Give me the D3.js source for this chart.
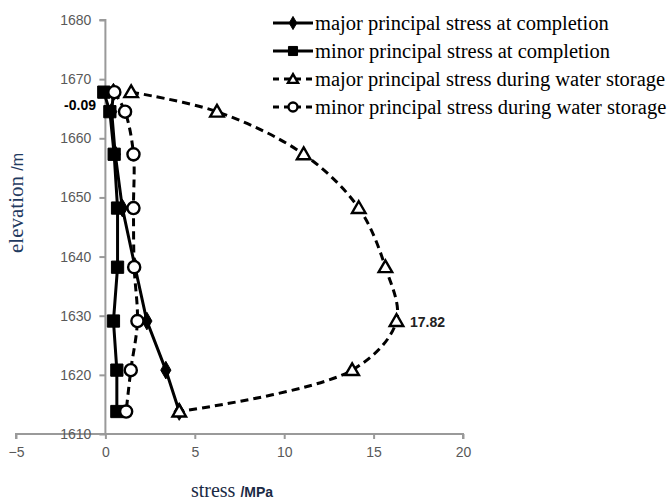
<!DOCTYPE html>
<html>
<head>
<meta charset="utf-8">
<script src="https://cdn.jsdelivr.net/npm/d3@7"></script>
<style>
    body { margin: 0; background: #fff; }
    .tick-label { font-family: "Liberation Sans", Arial, sans-serif; font-size: 14px; fill: #595959; }
    .legend-text { font-family: "Liberation Serif", "Times New Roman", serif; font-size: 20.5px; fill: #000; }
</style>
</head>
<body>
<svg id="chart" width="672" height="500"></svg>
<script>
// elevations (m) shared by all four series
const elevations = [1667.8, 1664.5, 1657.3, 1648.2, 1638.2, 1629.1, 1620.8, 1613.8];

const majorCompletion = [0.45, 0.35, 0.55, 0.95, 1.66, 2.32, 3.38, 4.13];
const minorCompletion = [-0.09, 0.25, 0.49, 0.68, 0.68, 0.45, 0.64, 0.64];
const majorStorage = [1.44, 6.24, 11.09, 14.17, 15.66, 16.28, 13.8, 4.13];
const minorStorage = [0.5, 1.1, 1.57, 1.57, 1.61, 1.79, 1.42, 1.16];

const seriesNames = [
    "major principal stress at completion",
    "minor principal stress at completion",
    "major principal stress during water storage",
    "minor principal stress during water storage",
];

const xTicks = [-5, 0, 5, 10, 15, 20];
const yTicks = [1610, 1620, 1630, 1640, 1650, 1660, 1670, 1680];

const series = [
    { name: seriesNames[0], values: majorCompletion, marker: "diamond", dashed: false },
    { name: seriesNames[1], values: minorCompletion, marker: "square", dashed: false },
    { name: seriesNames[2], values: majorStorage, marker: "triangle", dashed: true },
    { name: seriesNames[3], values: minorStorage, marker: "circle", dashed: true },
];

const svg = d3.select("#chart");

const x = d3.scaleLinear().domain([-5, 20]).range([16, 463]);
const y = d3.scaleLinear().domain([1610, 1680]).range([434, 20]);

const AXIS_COLOR = "#9a9a9a";

// x axis (drawn at elevation 1610)
const xAxis = svg.append("g")
    .attr("transform", `translate(0,${y(1610)})`)
    .call(d3.axisBottom(x).tickValues(xTicks).tickSize(5).tickFormat((d) => d < 0 ? "\u2212" + Math.abs(d) : d));
xAxis.select(".domain").attr("stroke", AXIS_COLOR).attr("stroke-width", 2)
    .attr("d", `M${x(-5)},5V0H${x(20)}V5`);
xAxis.selectAll(".tick line").attr("stroke", AXIS_COLOR).attr("stroke-width", 2);
xAxis.selectAll(".tick text").attr("class", "tick-label").attr("dy", "1.1em");

// y axis (drawn at stress 0)
const yAxis = svg.append("g")
    .attr("transform", `translate(${x(0)},0)`)
    .call(d3.axisLeft(y).tickValues(yTicks).tickSize(6).tickFormat(d3.format("d")));
yAxis.select(".domain").attr("stroke", AXIS_COLOR).attr("stroke-width", 2)
    .attr("d", `M-6,${y(1680)}H0V${y(1610)}`);
yAxis.selectAll(".tick line").attr("stroke", AXIS_COLOR).attr("stroke-width", 2);
yAxis.selectAll(".tick text").attr("class", "tick-label").attr("x", -14);

function markerPath(type, size) {
    const symbols = {
        diamond: d3.symbolDiamond,
        square: d3.symbolSquare,
        triangle: d3.symbolTriangle,
        circle: d3.symbolCircle,
    };
    return d3.symbol().type(symbols[type]).size(size)();
}

function drawMarker(g, type, cx, cy, scale) {
    const sizes = { diamond: 90, square: 150, triangle: 80, circle: 115 };
    const filled = type === "diamond" || type === "square";
    g.append("path")
        .attr("d", markerPath(type, sizes[type] * scale))
        .attr("transform", `translate(${cx},${cy + (type === "triangle" ? 1 : 0)})`)
        .attr("fill", filled ? "#000" : "#fff")
        .attr("stroke", "#000")
        .attr("stroke-width", filled ? 1 : 2.4);
}

const plot = svg.append("g");

series.forEach((s) => {
    const points = s.values.map((v, i) => [x(v), y(elevations[i])]);
    const line = d3.line().curve(s.dashed ? d3.curveCatmullRom.alpha(0.5) : d3.curveLinear);
    plot.append("path")
        .attr("d", line(points))
        .attr("fill", "none")
        .attr("stroke", "#000")
        .attr("stroke-width", 3)
        .attr("stroke-dasharray", s.dashed ? "8,5" : null);
    points.forEach(([px, py]) => drawMarker(plot, s.marker, px, py, 1));
});

// value annotations
svg.append("text")
    .attr("x", 96).attr("y", 110)
    .attr("text-anchor", "end")
    .style("font-family", "Liberation Sans, Arial, sans-serif")
    .style("font-size", "14px").style("font-weight", "bold")
    .text("-0.09");

svg.append("text")
    .attr("x", 410).attr("y", 327)
    .style("font-family", "Liberation Sans, Arial, sans-serif")
    .style("font-size", "14px").style("font-weight", "bold")
    .style("fill", "#222")
    .text("17.82");

// axis titles
const yTitle = svg.append("text")
    .attr("transform", `translate(23,203) rotate(-90)`)
    .attr("text-anchor", "middle");
yTitle.append("tspan")
    .style("font-family", "Liberation Serif, Times New Roman, serif")
    .style("font-size", "21px").style("fill", "#1f3a60")
    .text("elevation ");
yTitle.append("tspan")
    .style("font-family", "Liberation Sans, Arial, sans-serif")
    .style("font-size", "16px").style("fill", "#1f3a60")
    .text(" /m");

const xTitle = svg.append("text")
    .attr("x", 232).attr("y", 497)
    .attr("text-anchor", "middle");
xTitle.append("tspan")
    .style("font-family", "Liberation Serif, Times New Roman, serif")
    .style("font-size", "20px").style("fill", "#1a2a44")
    .text("stress ");
xTitle.append("tspan")
    .style("font-family", "Liberation Sans, Arial, sans-serif")
    .style("font-size", "14px").style("font-weight", "bold").style("fill", "#1a2a44")
    .text("/MPa");

// legend
const legend = svg.append("g").attr("transform", "translate(273,23)");
series.forEach((s, i) => {
    const row = legend.append("g").attr("transform", `translate(0,${i * 28})`);
    row.append("line")
        .attr("x1", 0).attr("x2", 40)
        .attr("stroke", "#000").attr("stroke-width", 3)
        .attr("stroke-dasharray", s.dashed ? "6,5" : null);
    drawMarker(row, s.marker, 20, 0, 0.55);
    row.append("text")
        .attr("class", "legend-text")
        .attr("x", 42).attr("dy", "0.32em")
        .text(s.name);
});
</script>
</body>
</html>
